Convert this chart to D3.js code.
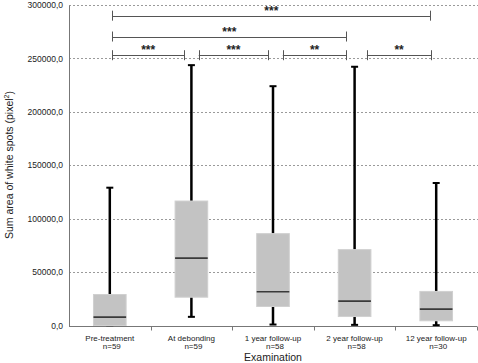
<!DOCTYPE html>
<html>
<head>
<meta charset="utf-8">
<script src="https://cdn.jsdelivr.net/npm/d3@7"></script>
<style>
  body { margin: 0; background: #fff; }
  text { font-family: "Liberation Sans", Arial, sans-serif; fill: #222; }
</style>
</head>
<body>
<div id="chart"></div>
<script>
const WIDTH = 478, HEIGHT = 363;

// data
const categories = ["Pre-treatment", "At debonding", "1 year follow-up", "2 year follow-up", "12 year follow-up"];
const counts = ["n=59", "n=59", "n=58", "n=58", "n=30"];
const mins    = [300,    8100,   900,    600,   300];
const q1s     = [0,      26500,  17800,  8400,  4400];
const medians = [7800,   63100,  31600,  22800, 15300];
const q3s     = [29000,  116500, 86000,  71000, 31900];
const maxs    = [129000, 243700, 224000, 242200, 133400];
const yTicks = [0, 50000, 100000, 150000, 200000, 250000, 300000];

// significance brackets: fractional category index start/end, level value, label
const bracketFrom  = [0.03, 1.09, 2.12, 3.15, 0.03, 0.03];
const bracketTo    = [0.91, 1.94, 2.90, 3.94, 2.90, 3.93];
const bracketLevel = [253000, 253000, 253000, 253000, 270500, 290000];
const bracketLabel = ["***", "***", "**", "**", "***", "***"];

const margin = {top: 5, right: 1, bottom: 38, left: 69};
const width = WIDTH - margin.left - margin.right;
const height = HEIGHT - margin.top - margin.bottom;

const svg = d3.select("#chart").append("svg")
    .attr("width", WIDTH).attr("height", HEIGHT);
const g = svg.append("g").attr("transform", `translate(${margin.left},${margin.top})`);

const x = d3.scaleBand().domain(categories).range([0, width]).padding(0);
const xi = d3.scaleLinear().domain([-0.5, categories.length - 0.5]).range([0, width]);
const y = d3.scaleLinear().domain([0, 300000]).range([height + 0.5, 0]);
const fmt = d => d3.format("d")(d) + ",0";

// grid lines
g.append("g").selectAll("line").data(yTicks.filter(d => d > 0)).enter()
  .append("line")
    .attr("x1", 0).attr("x2", width + 2)
    .attr("y1", d => Math.round(y(d)) + 0.5).attr("y2", d => Math.round(y(d)) + 0.5)
    .attr("stroke", "#9a9a9a").attr("stroke-width", 1)
    .attr("stroke-dasharray", "2,2");

// y axis
const yAxis = g.append("g").call(d3.axisLeft(y).tickValues(yTicks).tickFormat(fmt).tickSize(0).tickPadding(6));
yAxis.select(".domain").attr("stroke", "#777");
yAxis.selectAll("text").style("font-size", "8.5px").attr("fill", "#333");

// x axis
const xAxis = g.append("g").attr("transform", `translate(0,${Math.round(y(0)) + 0.5})`);
xAxis.append("line").attr("x1", 0).attr("x2", width).attr("stroke", "#777");
xAxis.selectAll("line.tick").data(d3.range(1, categories.length + 1)).enter()
  .append("line").attr("class", "tick")
    .attr("x1", d => Math.round(xi(d - 0.5)) + 0.5).attr("x2", d => Math.round(xi(d - 0.5)) + 0.5)
    .attr("y1", 0).attr("y2", 4).attr("stroke", "#777");

const labels = xAxis.selectAll("text.cat").data(categories).enter()
  .append("text").attr("class", "cat")
    .attr("x", d => x(d) + x.bandwidth() / 2)
    .attr("y", 14.5)
    .attr("text-anchor", "middle")
    .attr("fill", "#333")
    .style("font-size", "8px");
labels.append("tspan").text(d => d);
labels.append("tspan").attr("x", d => x(d) + x.bandwidth() / 2 + 2).attr("dy", 7.5)
  .text((d, i) => counts[i]);

// axis titles
svg.append("text")
  .attr("x", margin.left + width / 2).attr("y", 361)
  .attr("text-anchor", "middle").style("font-size", "10.5px")
  .text("Examination");

const yt = svg.append("text")
  .attr("transform", `translate(13,${margin.top + height / 2}) rotate(-90)`)
  .attr("text-anchor", "middle").style("font-size", "10.5px");
yt.append("tspan").text("Sum area of white spots (pixel");
yt.append("tspan").attr("dy", -4).style("font-size", "7px").text("2");
yt.append("tspan").attr("dy", 4).text(")");

// boxes
const boxW = x.bandwidth() * 0.4;
const box = g.append("g").selectAll("g").data(categories).enter().append("g")
  .attr("transform", d => `translate(${x(d) + x.bandwidth() / 2},0)`);

box.append("line")
  .attr("x1", 0).attr("x2", 0)
  .attr("y1", (d, i) => y(maxs[i])).attr("y2", (d, i) => y(q3s[i]))
  .attr("stroke", "#000").attr("stroke-width", 2.5);
box.append("line")
  .attr("x1", 0).attr("x2", 0)
  .attr("y1", (d, i) => y(q1s[i])).attr("y2", (d, i) => y(mins[i]))
  .attr("stroke", "#000").attr("stroke-width", 2.5);
box.append("line")
  .attr("x1", -3.5).attr("x2", 3.5)
  .attr("y1", (d, i) => y(maxs[i])).attr("y2", (d, i) => y(maxs[i]))
  .attr("stroke", "#000").attr("stroke-width", 2);
box.append("line")
  .attr("x1", -3.5).attr("x2", 3.5)
  .attr("y1", (d, i) => y(mins[i])).attr("y2", (d, i) => y(mins[i]))
  .attr("stroke", "#000").attr("stroke-width", 2);
box.append("rect")
  .attr("x", -boxW / 2).attr("width", boxW)
  .attr("y", (d, i) => y(q3s[i]))
  .attr("height", (d, i) => y(q1s[i]) - y(q3s[i]))
  .attr("fill", "#c3c3c3").attr("stroke", "#d0d0d0").attr("stroke-width", 1);
box.append("line")
  .attr("x1", -boxW / 2).attr("x2", boxW / 2)
  .attr("y1", (d, i) => y(medians[i])).attr("y2", (d, i) => y(medians[i]))
  .attr("stroke", "#3a3a3a").attr("stroke-width", 1.6);

// significance brackets
const br = g.append("g").selectAll("g").data(bracketLabel).enter().append("g");
br.append("line")
  .attr("x1", (d, i) => xi(bracketFrom[i])).attr("x2", (d, i) => xi(bracketTo[i]))
  .attr("y1", (d, i) => Math.round(y(bracketLevel[i])) + 0.5)
  .attr("y2", (d, i) => Math.round(y(bracketLevel[i])) + 0.5)
  .attr("stroke", "#555");
[bracketFrom, bracketTo].forEach(arr => {
  br.append("line")
    .attr("x1", (d, i) => Math.round(xi(arr[i])) + 0.5).attr("x2", (d, i) => Math.round(xi(arr[i])) + 0.5)
    .attr("y1", (d, i) => y(bracketLevel[i]) - 5).attr("y2", (d, i) => y(bracketLevel[i]) + 5)
    .attr("stroke", "#555");
});
br.append("text")
  .attr("x", (d, i) => (xi(bracketFrom[i]) + xi(bracketTo[i])) / 2)
  .attr("y", (d, i) => y(bracketLevel[i]) - 1)
  .attr("text-anchor", "middle")
  .style("font-size", "12px").style("font-weight", "bold").attr("fill", "#333")
  .text(d => d);
</script>
</body>
</html>
